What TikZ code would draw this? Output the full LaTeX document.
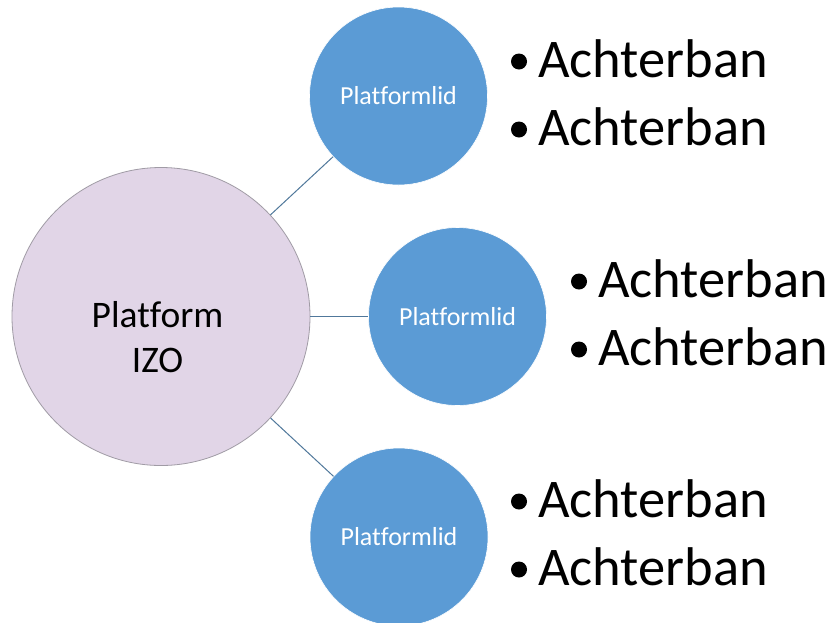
\documentclass[tikz,border=0pt]{standalone}
\usepackage{fontspec}
\setmainfont{Carlito}[Ligatures=NoCommon]
\definecolor{hubfill}{RGB}{225,213,231}
\definecolor{hubline}{RGB}{160,155,165}
\definecolor{memberfill}{RGB}{91,155,213}
\definecolor{linkcol}{RGB}{80,120,155}
\tikzset{
  hub/.style={circle, minimum size=298pt, inner sep=0pt, fill=hubfill, draw=hubline, line width=0.8pt},
  member/.style={circle, minimum size=178pt, inner sep=0pt, fill=memberfill, draw=white, line width=0.6pt,
    text=white, font=\fontsize{26}{30}\selectfont},
  link/.style={draw=linkcol, line width=1pt},
  hublabel/.style={inner sep=0pt, anchor=base, font=\fontsize{37.5}{44}\selectfont},
  item/.style={inner sep=0pt, anchor=base west, font=\fontsize{54.5}{64}\selectfont},
  dot/.style={fill=black}
}
\begin{document}
\begin{tikzpicture}[x=1pt,y=-1pt]
\useasboundingbox (0,0) rectangle (832,622);
\clip (0,0) rectangle (832,622);
\fill[white] (0,0) rectangle (832,622);
% hub and members
\node[hub] (hub) at (161,316.5) {};
\node[member] (m1) at (398.5,96) {Platformlid};
\node[member] (m2) at (457.5,316.5) {Platformlid};
\node[member] (m3) at (399,537) {Platformlid};
\node[hublabel] (hl1) at (157.5,327) {Platform};
\node[hublabel] (hl2) at (157.5,372) {IZO};
% connectors
\draw[link] (hub) -- (m1);
\draw[link] (hub) -- (m2);
\draw[link] (hub) -- (m3);
% bullet lists
\node[item] (t1a) at (538,77) {Achterban};
\node[item] (t1b) at (538,145) {Achterban};
\node[item] (t2a) at (598,297) {Achterban};
\node[item] (t2b) at (598,365) {Achterban};
\node[item] (t3a) at (538,517) {Achterban};
\node[item] (t3b) at (538,585) {Achterban};
\fill[dot] (519,61.5) circle (8);
\fill[dot] (519,129.5) circle (8);
\fill[dot] (579,281.5) circle (8);
\fill[dot] (579,349.5) circle (8);
\fill[dot] (519,501.5) circle (8);
\fill[dot] (519,569.5) circle (8);
\end{tikzpicture}
\end{document}
